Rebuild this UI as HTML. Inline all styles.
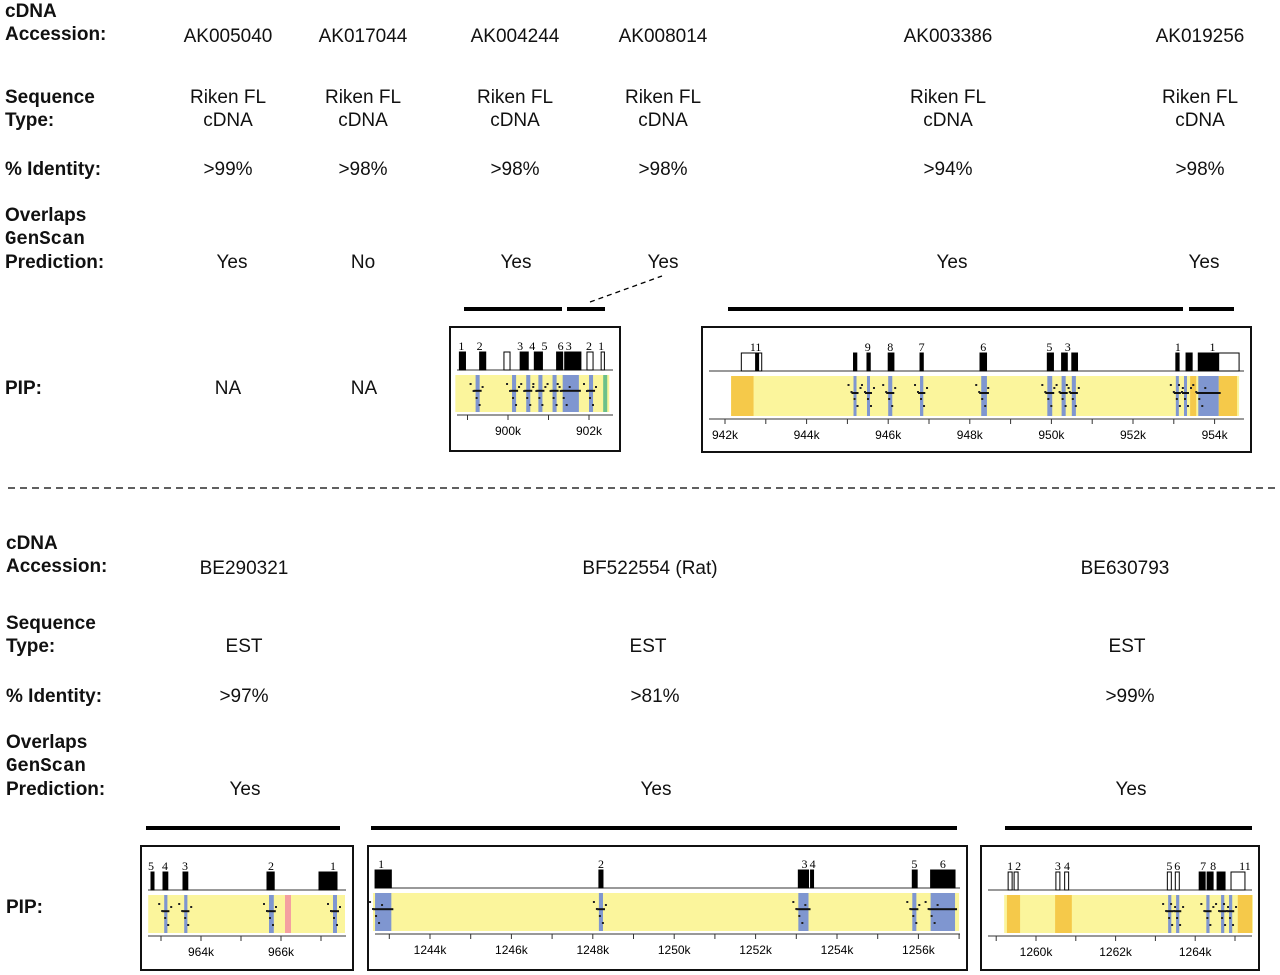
<!DOCTYPE html>
<html><head><meta charset="utf-8"><style>
body{margin:0;width:1280px;height:975px;background:#fff;position:relative;overflow:hidden;font-family:"Liberation Sans",sans-serif;color:#111}
.t{position:absolute;white-space:nowrap}
.lb{font-weight:bold;font-size:19px;line-height:23px}
.v{font-size:19px;text-align:center;transform:translateX(-50%);line-height:23px}
.mono{font-family:"Liberation Mono",monospace;font-weight:bold}
svg{position:absolute;left:0;top:0}
</style></head><body>
<div class="t lb" style="left:5px;top:0px">cDNA<br>Accession:</div>
<div class="t lb" style="left:5px;top:86px">Sequence<br>Type:</div>
<div class="t lb" style="left:5px;top:158px">% Identity:</div>
<div class="t lb" style="left:5px;top:204px">Overlaps<br><span class="mono">GenScan</span><br>Prediction:</div>
<div class="t lb" style="left:5px;top:377px">PIP:</div>
<div class="t lb" style="left:6px;top:532px">cDNA<br>Accession:</div>
<div class="t lb" style="left:6px;top:612px">Sequence<br>Type:</div>
<div class="t lb" style="left:6px;top:685px">% Identity:</div>
<div class="t lb" style="left:6px;top:731px">Overlaps<br><span class="mono">GenScan</span><br>Prediction:</div>
<div class="t lb" style="left:6px;top:896px">PIP:</div>
<svg width="1280" height="975" id="s"></svg>
<div id="vals"></div>
<script>
const colX=[228,363,515,663,948,1200];
const acc=["AK005040","AK017044","AK004244","AK008014","AK003386","AK019256"];
const ident=[">99%",">98%",">98%",">98%",">94%",">98%"];
const overlap=["Yes","No","Yes","Yes","Yes","Yes"];
const ovX=[232,363,516,663,952,1204];
const colX2=[244,650,1125];
const acc2=["BE290321","BF522554 (Rat)","BE630793"];
const ident2=[">97%",">81%",">99%"];
const type2X=[244,648,1127];
const ovX2=[245,656,1131];
const V=document.getElementById('vals');
function txt(x,y,s,name){const d=document.createElement('div');d.className='t v';d.style.left=x+'px';d.style.top=y+'px';d.innerHTML=s;


V.appendChild(d);}
acc.forEach((a,i)=>{txt(colX[i],25,a,'accession-'+i);txt(colX[i],86,'Riken FL<br>cDNA','seq-type-'+i);txt(colX[i],158,ident[i],'identity-'+i);txt(ovX[i],251,overlap[i],'overlap-'+i);});
txt(228,377,'NA','pip-na-0');txt(364,377,'NA','pip-na-1');
acc2.forEach((a,i)=>{txt(colX2[i],557,a,'accession2-'+i);txt(type2X[i],635,'EST','seq-type2-'+i);txt(ovX2[i]-1,685,ident2[i],'identity2-'+i);txt(ovX2[i],778,'Yes','overlap2-'+i);});

const panels=[
 {name:'pip-ak004244',box:[449,326,172,126],x0:898,px0:427,ppk:40.5,yel:[898.7,902.5],yy:[375,412],ticks:[900,902],blue:[[899.2,899.3],[900.1,900.2],[900.45,900.55],[900.75,900.85],[901.1,901.2],[901.35,901.75],[902.0,902.1]],orange:[],green:[[902.35,902.45]],exons:[[898.8,0.15,1],[899.3,0.15,1],[899.9,0.15,0],[900.3,0.2,1],[900.65,0.2,1],[901.2,0.15,1],[901.4,0.4,1],[901.95,0.15,0],[902.3,0.08,0]],labels:[[898.85,'1'],[899.3,'2'],[900.3,'3'],[900.6,'4'],[900.9,'5'],[901.3,'6'],[901.5,'3'],[902.0,'2'],[902.3,'1']]},
 {name:'pip-ak003386',box:[701,326,551,127],x0:942,px0:725,ppk:40.8,yel:[942.15,954.6],yy:[376,416],ticks:[942,944,946,948,950,952,954],blue:[[945.15,945.22],[945.48,945.55],[946.0,946.1],[946.78,946.86],[948.28,948.42],[949.9,950.02],[950.25,950.35],[950.5,950.6],[953.05,953.1],[953.25,953.3],[953.6,954.1]],orange:[[942.15,942.7],[953.4,953.55],[954.1,954.55]],green:[],exons:[[942.4,0.5,0],[942.75,0.07,1],[945.15,0.08,1],[945.48,0.08,1],[946.0,0.14,1],[946.78,0.08,1],[948.25,0.16,1],[949.9,0.15,1],[950.25,0.14,1],[950.5,0.14,1],[953.05,0.08,1],[953.3,0.15,1],[953.6,0.95,1],[954.1,0.5,0]],labels:[[942.75,'11'],[945.5,'9'],[946.05,'8'],[946.82,'7'],[948.33,'6'],[949.95,'5'],[950.4,'3'],[953.1,'1'],[953.95,'1']]},
 {name:'pip-be290321',box:[140,845,214,126],x0:964,px0:201,ppk:40,yel:[962.68,967.6],yy:[895,933],ticks:[964,966],blue:[[963.08,963.16],[963.58,963.66],[965.7,965.82],[967.3,967.4]],orange:[],pink:[[966.1,966.25]],green:[],exons:[[962.75,0.06,1],[963.05,0.12,1],[963.55,0.12,1],[965.65,0.18,1],[966.95,0.45,1]],labels:[[962.75,'5'],[963.1,'4'],[963.6,'3'],[965.75,'2'],[967.3,'1']]},
 {name:'pip-bf522554',box:[367,845,601,126],x0:1244,px0:430,ppk:40.7,yel:[1242.6,1257.0],yy:[893,931],ticks:[1244,1246,1248,1250,1252,1254,1256],blue:[[1242.65,1243.05],[1248.15,1248.25],[1253.05,1253.3],[1255.85,1255.95],[1256.3,1256.9]],orange:[],green:[],exons:[[1242.65,0.4,1],[1248.15,0.1,1],[1253.05,0.25,1],[1253.35,0.05,1],[1255.85,0.12,1],[1256.3,0.6,1]],labels:[[1242.8,'1'],[1248.2,'2'],[1253.2,'3'],[1253.4,'4'],[1255.9,'5'],[1256.6,'6']]},
 {name:'pip-be630793',box:[980,845,280,126],x0:1260,px0:1036,ppk:39.8,yel:[1259.2,1265.45],yy:[895,933],ticks:[1260,1262,1264],blue:[[1263.32,1263.4],[1263.52,1263.6],[1264.28,1264.36],[1264.65,1264.73],[1264.85,1264.93]],orange:[[1259.27,1259.6],[1260.48,1260.9],[1265.07,1265.43]],green:[],exons:[[1259.3,0.1,0],[1259.45,0.1,0],[1260.5,0.1,0],[1260.72,0.1,0],[1263.3,0.1,0],[1263.5,0.1,0],[1264.1,0.15,1],[1264.3,0.15,1],[1264.55,0.2,1],[1264.9,0.35,0]],labels:[[1259.35,'1'],[1259.55,'2'],[1260.55,'3'],[1260.78,'4'],[1263.35,'5'],[1263.55,'6'],[1264.2,'7'],[1264.45,'8'],[1265.25,'11']]}
];
const S=document.getElementById('s');const NS='http://www.w3.org/2000/svg';
function el(t,a,p){const e=document.createElementNS(NS,t);for(const k in a)e.setAttribute(k,a[k]);(p||S).appendChild(e);return e;}
const bars=[[464,562,309],[567,605,309],[728,1183,309],[1189,1234,309],[146,340,828],[371,957,828],[1005,1252,828]];
bars.forEach((b,i)=>{const r=el('rect',{x:b[0],y:b[2]-2,width:b[1]-b[0],height:4,fill:'#000'});

});
const dl=el('line',{x1:590,y1:302,x2:662,y2:276,stroke:'#000','stroke-width':1.3,'stroke-dasharray':'5,4'});


const sep=el('line',{x1:8,y1:488,x2:1276,y2:488,stroke:'#000','stroke-width':1.3,'stroke-dasharray':'7,5'});


panels.forEach(p=>{
 const g=el('g',{});
 
 
 const X=k=>p.px0+(k-p.x0)*p.ppk;
 const [bx,by,bw,bh]=p.box;
 el('rect',{x:bx+1,y:by+1,width:bw-2,height:bh-2,fill:'#fff',stroke:'#111','stroke-width':2},g);
 const [y1,y2]=p.yy;
 el('rect',{x:X(p.yel[0]),y:y1,width:X(p.yel[1])-X(p.yel[0]),height:y2-y1,fill:'#fbf59c'},g);
 (p.orange||[]).forEach(o=>el('rect',{x:X(o[0]),y:y1,width:X(o[1])-X(o[0]),height:y2-y1,fill:'#f5c94a'},g));
 (p.pink||[]).forEach(o=>el('rect',{x:X(o[0]),y:y1,width:X(o[1])-X(o[0]),height:y2-y1,fill:'#f4a0a0'},g));
 (p.green||[]).forEach(o=>el('rect',{x:X(o[0]),y:y1,width:X(o[1])-X(o[0]),height:y2-y1,fill:'#6cc08a'},g));
 p.blue.forEach(o=>{el('rect',{x:X(o[0]),y:y1,width:Math.max(3,X(o[1])-X(o[0])),height:y2-y1,fill:'#7f96d0'},g);
  el('rect',{x:X(o[0])-2,y:y1+(y2-y1)*0.4,width:Math.max(7,X(o[1])-X(o[0])+4),height:2,fill:'#111'},g);
  for(let j=0;j<5;j++)el('rect',{x:X(o[0])-6+j*3,y:y1+8+((j*7)%25),width:2,height:2,fill:'#222'},g);});
 const lineY=y1-5;
 el('line',{x1:bx+8,y1:lineY,x2:bx+bw-8,y2:lineY,stroke:'#333','stroke-width':1},g);
 el('line',{x1:bx+8,y1:y2+3,x2:bx+bw-8,y2:y2+3,stroke:'#333','stroke-width':1},g);
 p.exons.forEach(e=>el('rect',{x:X(e[0]),y:lineY-18,width:Math.max(3,e[1]*p.ppk),height:18,fill:e[2]?'#000':'#fff',stroke:'#000','stroke-width':1},g));
 p.labels.forEach(l=>{const t=el('text',{x:X(l[0]),y:lineY-20,'font-family':'Liberation Serif, serif','font-size':12,'text-anchor':'middle'},g);t.textContent=l[1];});
 for(let k=Math.ceil(p.yel[0]-0.5);k<=p.yel[1]+0.5;k++){const xx=X(k);if(xx<bx+8||xx>bx+bw-8)continue;el('line',{x1:xx,y1:y2+3,x2:xx,y2:y2+8,stroke:'#333'},g);}
 p.ticks.forEach(k=>{const t=el('text',{x:X(k),y:y2+23,'font-size':12,'text-anchor':'middle','font-family':'Liberation Sans, sans-serif'},g);t.textContent=k+'k';});
});
</script>
</body></html>
